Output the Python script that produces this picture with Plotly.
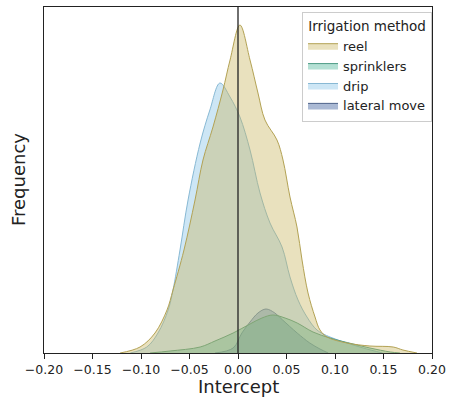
import plotly.graph_objects as go

# Density curves (x = intercept, y = relative frequency)
reel_x = [-0.1216, -0.101, -0.0856, -0.0732, -0.067, -0.0557, -0.0443, -0.0361, -0.0258, -0.0155,
          -0.0082, 0.002, 0.0124, 0.0206, 0.0278, 0.0402, 0.0464, 0.0536, 0.0608, 0.066, 0.0722,
          0.0794, 0.0845, 0.0918, 0.1124, 0.136, 0.160, 0.170, 0.1845]
reel_y = [0, 6, 20, 43, 63, 103, 153, 193, 226, 263, 293, 328, 293, 260, 233, 213, 193, 156, 126,
          93, 60, 36, 23, 16, 10, 7, 6, 3, 0]

sprinklers_x = [-0.0907, -0.070, -0.039, -0.0237, -0.005, 0.0124, 0.0247, 0.036, 0.0485, 0.061,
                0.0773, 0.0948, 0.1186, 0.136, 0.157, 0.167]
sprinklers_y = [0, 2, 6, 12, 20, 29, 35, 38, 35, 30, 21, 15, 9, 5, 1, 0]

drip_x = [-0.111, -0.094, -0.0825, -0.072, -0.067, -0.0598, -0.0515, -0.039, -0.029, -0.0186,
          -0.0082, 0.002, 0.0124, 0.0227, 0.033, 0.0454, 0.0536, 0.0619, 0.0711, 0.0814, 0.0948,
          0.1124, 0.129, 0.149]
drip_y = [0, 6, 20, 43, 63, 103, 153, 210, 243, 270, 256, 236, 203, 160, 130, 106, 76, 53, 36, 23,
          16, 10, 5, 0]

lateral_x = [-0.0237, -0.005, 0.004, 0.0124, 0.0206, 0.0289, 0.038, 0.046, 0.061, 0.074, 0.0845, 0.093]
lateral_y = [0, 5, 20, 31, 40, 44, 40, 33, 20, 10, 4, 0]

tick_vals = [-0.20, -0.15, -0.10, -0.05, 0.00, 0.05, 0.10, 0.15, 0.20]
tick_text = ["\u22120.20", "\u22120.15", "\u22120.10", "\u22120.05", "0.00", "0.05", "0.10", "0.15", "0.20"]

# (name, x, y, fill, edge, legend rank) -- drawn lateral first, reel last (on top)
series = [
    ("lateral move", lateral_x, lateral_y, "rgba(42,80,147,0.40)", "#4c6189", 4),
    ("drip", drip_x, drip_y, "rgba(130,192,230,0.40)", "#88b9d4", 3),
    ("sprinklers", sprinklers_x, sprinklers_y, "rgba(67,178,148,0.40)", "#4f9c86", 2),
    ("reel", reel_x, reel_y, "rgba(200,180,92,0.40)", "#b3a254", 1),
]

fig = go.Figure()
for name, xs, ys, fc, lc, rank in series:
    fig.add_trace(go.Scatter(
        x=xs, y=ys, name=name, mode="lines", fill="tozeroy", fillcolor=fc,
        line=dict(color=lc, width=1, shape="spline", smoothing=1.0),
        hoverinfo="skip", legendrank=rank,
    ))

ymax = max(reel_y) * 1.055

fig.add_shape(type="line", x0=0, x1=0, y0=0, y1=1, yref="paper", xref="x",
              line=dict(color="#222222", width=1.3))

fig.add_annotation(text="Intercept", xref="paper", yref="paper", x=0.5, y=0,
                   xanchor="center", yanchor="middle", yshift=-33, showarrow=False,
                   font=dict(size=18, family="DejaVu Sans", color="#222222"))
fig.add_annotation(text="Frequency", xref="paper", yref="paper", x=0, y=0.5,
                   xanchor="center", yanchor="middle", xshift=-26, textangle=-90,
                   showarrow=False, font=dict(size=18, family="DejaVu Sans", color="#222222"))

fig.update_layout(
    width=454, height=406,
    margin=dict(l=44, r=22, t=7, b=53),
    paper_bgcolor="white", plot_bgcolor="white",
    font=dict(family="DejaVu Sans", color="#222222", size=12),
    showlegend=True,
    legend=dict(
        x=0.665, y=0.985, xanchor="left", yanchor="top",
        bgcolor="rgba(255,255,255,0.85)", bordercolor="#cccccc", borderwidth=1,
        font=dict(size=13),
        title=dict(text="Irrigation method", font=dict(size=13.5), side="top center"),
        tracegroupgap=0, itemwidth=30,
    ),
    xaxis=dict(
        range=[-0.2, 0.2], tickmode="array", tickvals=tick_vals, ticktext=tick_text,
        ticks="outside", ticklen=5, tickcolor="#222222", tickfont=dict(size=12.5),
        showgrid=False, zeroline=False, showline=True, linecolor="#222222", linewidth=1,
        mirror=True, automargin=False,
    ),
    yaxis=dict(
        range=[0, ymax], showticklabels=False, ticks="", showgrid=False, zeroline=False,
        showline=True, linecolor="#222222", linewidth=1, mirror=True, automargin=False,
    ),
)

fig.write_html("out.html", config={"displayModeBar": False},
               post_script="document.body.style.margin='0';document.body.style.overflow='hidden';")
